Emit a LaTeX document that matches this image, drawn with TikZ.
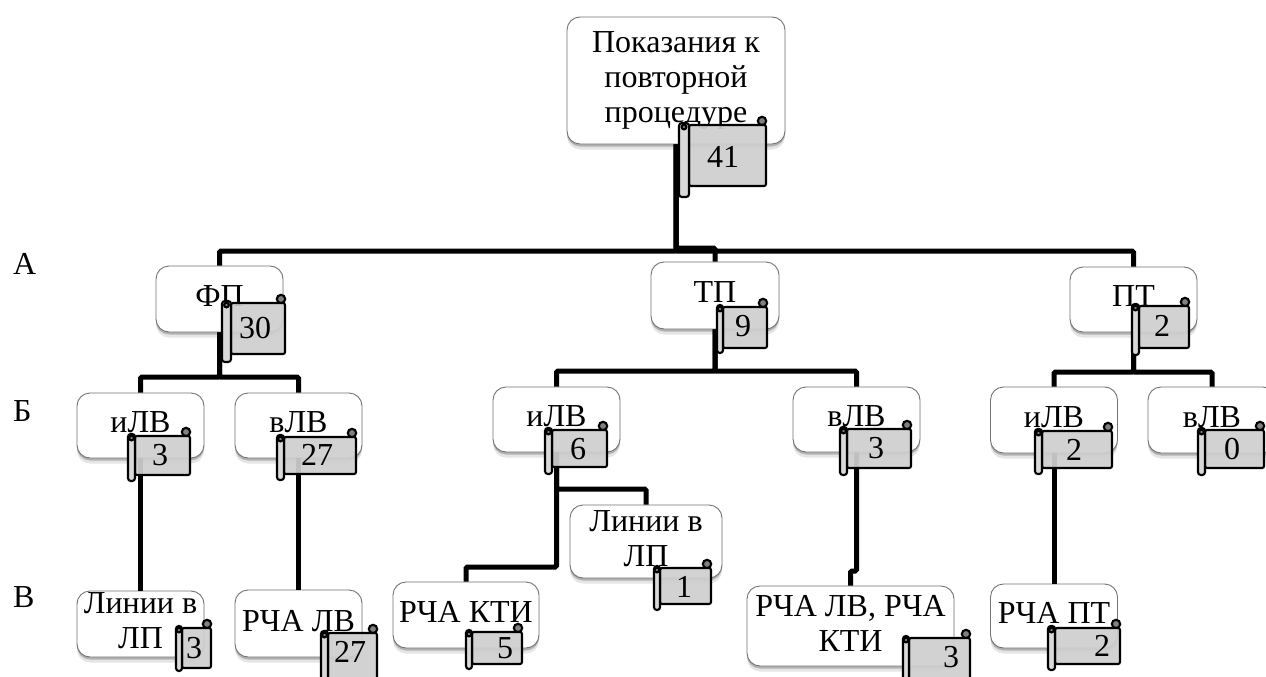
\documentclass[tikz,border=0pt]{standalone}
\usepackage{fontspec}
\setmainfont{Liberation Serif}
\usetikzlibrary{shadows,calc}
\tikzset{
  boxnode/.style={draw=black!55,line width=0.9pt,rounded corners=13pt,fill=white,inner sep=0pt,align=center,
    drop shadow={shadow xshift=0pt,shadow yshift=-5.5pt,opacity=0.10,fill=black},
    drop shadow={shadow xshift=0pt,shadow yshift=-2.5pt,opacity=0.22,fill=black}},
  link/.style={line width=5pt,draw=black,rounded corners=1.5pt},
  scrollbody/.style={draw=black,line width=2.1pt,fill=black!19,fill opacity=0.93,rounded corners=2pt},
  scrolltube/.style={draw=black,line width=2.1pt,fill=black!15,rounded corners=2.8pt},
  scrollknob/.style={draw=black,line width=2.1pt,fill=black!50},
  numtext/.style={inner sep=0pt},
  sidelabel/.style={inner sep=0pt,anchor=west}
}
% name, x0, y0, x1, y1, text
\newcommand{\bxnode}[6]{\node[boxnode,minimum width={(#4-#2)*1pt},minimum height={(#5-#3)*1pt}] (#1) at ({(#2+#4)/2},{(#3+#5)/2}) {#6\rule[-6pt]{0pt}{6pt}};}
% name, tubeL, tubeR, right, top, bottom, tubeBottom, number, numberpos
\newcommand{\scrollnote}[9]{%
  \draw[scrollknob] ({#4-4},{#5-4}) circle (4.2pt);
  \draw[scrollbody] (#3,#5) -- (#4,#5) -- (#4,#6) -- (#3,#6) -- cycle;
  \draw[scrolltube] (#2,{#5-2}) rectangle (#3,#7);
  \draw[scrollknob] ({(#2+#3)/2},{#5+2}) circle (2.4pt);
  \node[numtext] (#1) at (#9) {#8};}
\begin{document}
\begin{tikzpicture}[x=1pt,y=-1pt,font=\fontsize{32}{35}\selectfont]
\useasboundingbox (0,0) rectangle (1266,677);
\clip (0,0) rectangle (1266,677);
\fill[white] (0,0) rectangle (1266,677);

\node[sidelabel] (la) at (13,264) {А};
\node[sidelabel] (lb) at (13,411) {Б};
\node[sidelabel] (lc) at (13,597) {В};

\bxnode{root}{567}{17}{785}{144}{Показания к\\повторной\\процедуре}
\bxnode{fp}{156}{266}{283}{332}{ФП}
\bxnode{tp}{651}{262}{779}{329}{ТП}
\bxnode{pt}{1070}{267}{1197}{332}{ПТ}
\bxnode{ila}{77}{393}{204}{458}{иЛВ}
\bxnode{vla}{235}{393}{362}{458}{вЛВ}
\bxnode{ilb}{493}{387}{620}{452}{иЛВ}
\bxnode{vlb}{793}{387}{920}{452}{вЛВ}
\bxnode{ilc}{990.5}{387}{1117.5}{453}{иЛВ}
\bxnode{vlc}{1148}{387}{1276}{453}{вЛВ}
\bxnode{lpa}{77}{591}{204}{657}{Линии в\\ЛП}
\bxnode{rla}{235}{590}{362}{657}{РЧА ЛВ}
\bxnode{kti}{393}{582}{539}{648}{РЧА КТИ}
\bxnode{lpb}{570}{505}{722}{578}{Линии в\\ЛП}
\bxnode{rlk}{747}{586}{954}{666}{РЧА ЛВ, РЧА\\КТИ}
\bxnode{rpt}{990.5}{584}{1117.5}{648}{РЧА ПТ}

\coordinate (busa) at (0,251);
\coordinate (busat) at (0,248);
\coordinate (busf) at (0,377);
\coordinate (bust) at (0,371);
\coordinate (busp) at (0,372);
\coordinate (brup) at (0,489);
\coordinate (brlo) at (0,567);
\coordinate (jog) at (0,571);

\draw[link] (root.south) |- (busa -| fp.north) -- (fp.north);
\draw[link] (root.south) |- (busa -| pt.north) -- (pt.north);
\draw[link] (root.south) |- (busat -| tp.north) -- (tp.north);
\draw[link] (fp.south) |- (busf -| ila.north) -- (ila.north);
\draw[link] (fp.south) |- (busf -| vla.north) -- (vla.north);
\draw[link] (tp.south) |- (bust -| ilb.north) -- (ilb.north);
\draw[link] (tp.south) |- (bust -| vlb.north) -- (vlb.north);
\draw[link] (pt.south) |- (busp -| ilc.north) -- (ilc.north);
\draw[link] (pt.south) |- (busp -| vlc.north) -- (vlc.north);
\draw[link] (ila.south) -- (lpa.north);
\draw[link] (vla.south) -- (rla.north);
\draw[link] (ilb.south) |- (brup -| lpb.north) -- (lpb.north);
\draw[link] (ilb.south) |- (brlo -| kti.north) -- (kti.north);
\draw[link] (vlb.south) |- (jog -| rlk.north) -- (rlk.north);
\draw[link] (ilc.south) -- (rpt.north);

\scrollnote{na}{679}{689}{766}{125}{186}{197}{41}{723,157}
\scrollnote{nb}{222}{231}{285}{303}{354}{362}{30}{255,328}
\scrollnote{nc}{717}{723}{767}{307}{348}{353}{9}{743,326}
\scrollnote{nd}{1132}{1139}{1189}{306}{348}{355}{2}{1162,326}
\scrollnote{ne}{128}{135}{190}{436}{475}{481}{3}{160,455}
\scrollnote{nf}{277}{284}{356}{437}{474}{480}{27}{317,455}
\scrollnote{ng}{176}{182}{211}{628}{668}{671}{3}{194,648}
\scrollnote{nh}{321}{328}{377}{633}{690}{700}{27}{350,652}
\scrollnote{ni}{545}{552}{607}{430}{467}{474}{6}{578,449}
\scrollnote{nj}{654}{660}{711}{568}{604}{610}{1}{684,587}
\scrollnote{nk}{466}{472}{522}{632}{664}{669}{5}{505,648}
\scrollnote{nl}{840}{847}{911}{429}{468}{475}{3}{876,448}
\scrollnote{nm}{903}{909}{970}{638}{690}{700}{3}{951,657}
\scrollnote{nn}{1035}{1042}{1112}{431}{468}{474}{2}{1074,450}
\scrollnote{no}{1198}{1205}{1264}{430}{468}{475}{0}{1232,449}
\scrollnote{np}{1048}{1055}{1120}{628}{664}{670}{2}{1102,646}
\end{tikzpicture}
\end{document}
